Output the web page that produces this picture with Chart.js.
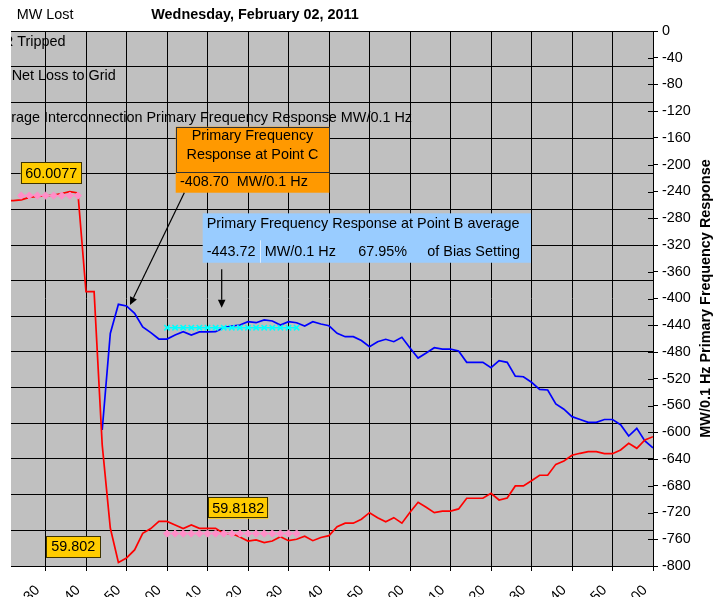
<!DOCTYPE html>
<html>
<head>
<meta charset="utf-8">
<script src="https://cdn.jsdelivr.net/npm/chart.js@4.4.1/dist/chart.umd.min.js"></script>
<style>
  html, body { margin: 0; padding: 0; overflow: hidden; background: #fff; }
</style>
</head>
<body>
<canvas id="chart-frequency" width="716" height="660" style="width:716px;height:660px;display:block"></canvas>
<script>
// seconds relative to the first labelled tick, 2 s scan rate
const seconds = [-10, -8, -6, -4, -2, 0, 2, 4, 6, 8, 10, 12, 14, 16, 18, 20, 22, 24, 26, 28,
  30, 32, 34, 36, 38, 40, 42, 44, 46, 48, 50, 52, 54, 56, 58, 60, 62, 64, 66, 68,
  70, 72, 74, 76, 78, 80, 82, 84, 86, 88, 90, 92, 94, 96, 98, 100, 102, 104, 106, 108,
  110, 112, 114, 116, 118, 120, 122, 124, 126, 128, 130, 132, 134, 136, 138, 140, 142, 144, 146, 148, 150];

// interconnection frequency (Hz), left axis
const frequency = [60.0048, 60.0049, 60.0053, 60.0067, 60.0072, 60.0075, 60.0080, 60.0089, 60.0099, 60.0092,
  59.9538, 59.9538, 59.8679, 59.8213, 59.8020, 59.8045, 59.8090, 59.8183, 59.8210, 59.8250,
  59.8250, 59.8230, 59.8210, 59.8230, 59.8211, 59.8211, 59.8211, 59.8183, 59.8182, 59.8163,
  59.8140, 59.8146, 59.8131, 59.8140, 59.8164, 59.8142, 59.8150, 59.8167, 59.8142, 59.8160,
  59.8170, 59.8220, 59.8240, 59.8240, 59.8262, 59.8299, 59.8271, 59.8248, 59.8271, 59.8240,
  59.8301, 59.8357, 59.8329, 59.8299, 59.8308, 59.8308, 59.8320, 59.8380, 59.8380, 59.8380,
  59.8408, 59.8370, 59.8381, 59.8449, 59.8449, 59.8478, 59.8509, 59.8509, 59.8570, 59.8589,
  59.8621, 59.8632, 59.8641, 59.8641, 59.8630, 59.8630, 59.8651, 59.8688, 59.8660, 59.8707, 59.8725];

// primary frequency response (MW/0.1 Hz), right axis
const response = [null, null, null, null, null, null, null, null, null, null, null, null,
  -596.6, -452.3, -408.7, -411.2, -422.1, -442.6, -451.1, -460.6,
  -460.6, -454.6, -449.6, -454.6, -450.0, -450.0, -449.6, -443.6, -441.1, -439.6,
  -434.7, -436.2, -432.1, -433.6, -439.6, -434.7, -436.2, -441.1, -434.7, -438.1,
  -440.8, -452.0, -457.1, -457.1, -462.8, -472.1, -464.6, -461.0, -464.6, -458.0,
  -474.0, -489.0, -481.5, -473.6, -475.8, -475.8, -478.5, -495.4, -495.4, -495.4,
  -503.5, -493.0, -495.4, -516.2, -517.0, -525.3, -535.8, -536.8, -557.7, -565.5,
  -576.7, -580.9, -585.1, -585.1, -580.9, -580.9, -588.7, -605.6, -594.1, -613.1, -623.5];

const tickSeconds = [0, 10, 20, 30, 40, 50, 60, 70, 80, 90, 100, 110, 120, 130, 140, 150];
const tickLabels = ['05:43:30', '05:43:40', '05:43:50', '05:44:00', '05:44:10', '05:44:20', '05:44:30', '05:44:40',
  '05:44:50', '05:45:00', '05:45:10', '05:45:20', '05:45:30', '05:45:40', '05:45:50', '05:46:00'];

const pointAWindow = [-6, 8];
const pointBWindow = [30, 62];
const pointAHz = 60.0077;
const pointBHz = 59.8182;
const pointBMw = -443.72;
const pointCSec = 18;
const pointCHz = 59.802;
const pointCMw = -408.70;
const biasShare = '67.95%';

const FONT = 'Arial, "Liberation Sans", sans-serif';

const pts = (ys) => seconds.map((t, i) => ({ x: t, y: ys[i] }));
const avgLine = (win, v) => seconds.filter(t => t >= win[0] && t <= win[1]).map(t => ({ x: t, y: v }));

// Draw a filled box with optional border
const box = (ctx, x, y, w, h, fill, stroke) => {
  ctx.fillStyle = fill;
  ctx.fillRect(x, y, w, h);
  if (stroke) {
    ctx.strokeStyle = stroke;
    ctx.lineWidth = 1;
    ctx.strokeRect(Math.round(x) + 0.5, Math.round(y) + 0.5, Math.round(w) - 1, Math.round(h) - 1);
  }
};

const arrow = (ctx, x1, y1, x2, y2) => {
  const ang = Math.atan2(y2 - y1, x2 - x1);
  const len = 8, half = 3.8;
  const bx = x2 - len * Math.cos(ang), by = y2 - len * Math.sin(ang);
  ctx.strokeStyle = '#000';
  ctx.fillStyle = '#000';
  ctx.lineWidth = 1.2;
  ctx.beginPath();
  ctx.moveTo(x1, y1);
  ctx.lineTo(bx, by);
  ctx.stroke();
  ctx.beginPath();
  ctx.moveTo(x2, y2);
  ctx.lineTo(bx + half * Math.sin(ang), by - half * Math.cos(ang));
  ctx.lineTo(bx - half * Math.sin(ang), by + half * Math.cos(ang));
  ctx.closePath();
  ctx.fill();
};

const overlay = {
  id: 'overlay',
  beforeDraw(chart) {
    const { ctx, chartArea: a } = chart;
    ctx.save();
    ctx.fillStyle = '#C0C0C0';
    ctx.fillRect(a.left, a.top, a.right - a.left, a.bottom - a.top);
    ctx.restore();
  },
  afterDraw(chart) {
    const { ctx, chartArea: a, scales } = chart;
    const X = v => scales.x.getPixelForValue(v);
    const YF = v => scales.y.getPixelForValue(v);
    const YM = v => scales.y2.getPixelForValue(v);
    ctx.save();

    // inner half of the right axis tick marks
    ctx.strokeStyle = '#000';
    ctx.lineWidth = 1;
    scales.y2.ticks.forEach(t => {
      const y = Math.round(YM(t.value)) + 0.5;
      ctx.beginPath();
      ctx.moveTo(a.right - 5, y);
      ctx.lineTo(a.right, y);
      ctx.stroke();
    });

    // header
    ctx.fillStyle = '#000';
    ctx.textBaseline = 'middle';
    ctx.textAlign = 'left';
    ctx.font = '14.4px ' + FONT;
    ctx.fillText('MW Lost', 16.7, 15.5);
    ctx.font = 'bold 14.4px ' + FONT;
    ctx.textAlign = 'center';
    ctx.fillText('Wednesday, February 02, 2011', 255, 15.5);

    // right axis title
    ctx.save();
    ctx.translate(706, 298.5);
    ctx.rotate(-Math.PI / 2);
    ctx.fillText('MW/0.1 Hz Primary Frequency Response', 0, 0);
    ctx.restore();

    // row captions, cut at the plot's left edge
    ctx.save();
    ctx.beginPath();
    ctx.rect(a.left, 0, chart.width, chart.height);
    ctx.clip();
    ctx.font = '14.4px ' + FONT;
    ctx.textAlign = 'left';
    let pre = ctx.measureText('R ').width;
    ctx.fillText('R Tripped', 17.3 - pre, 42);
    ctx.fillText('Net Loss to Grid', 11.7, 76);
    pre = ctx.measureText('Ave').width;
    ctx.fillText('Average Interconnection Primary Frequency Response MW/0.1 Hz', 11.3 - pre, 118.3);
    ctx.restore();

    // yellow value tags
    ctx.font = '14.4px ' + FONT;
    ctx.textAlign = 'center';
    const tag = (txt, x, y, w, h) => {
      box(ctx, x, y, w, h, '#FFCC00', '#3d3300');
      ctx.fillStyle = '#000';
      ctx.fillText(txt, x + w / 2, y + h / 2 + 0.5);
    };
    const ax = X(pointAWindow[0]), ay = YF(pointAHz);
    tag(pointAHz.toFixed(4), ax - 0.5, ay - 33.4, 61, 21.7);
    const cx = X(pointCSec), cy = YF(pointCHz);
    tag(pointCHz.toFixed(3), cx - 72.4, cy - 26.4, 54.7, 21.7);
    const bx = X(46), by = YF(pointBHz);
    tag(pointBHz.toFixed(4), bx - 23.5, by - 36.1, 60, 21.3);

    // point C callout
    const pcx = X(pointCSec), pcy = YM(pointCMw);
    const ox = pcx + 57.3, oy = pcy - 177.6;
    box(ctx, ox, oy + 46, 153.6, 20, '#FF9900');
    box(ctx, ox, oy, 153.6, 46, '#FF9900', '#333333');
    ctx.fillStyle = '#000';
    ctx.textAlign = 'center';
    ctx.fillText('Primary Frequency', ox + 76.8, oy + 9.3);
    ctx.fillText('Response at Point C', ox + 76.8, oy + 28);
    ctx.textAlign = 'left';
    ctx.fillText(pointCMw.toFixed(2), ox + 4.3, oy + 55.6);
    ctx.fillText('MW/0.1 Hz', ox + 61, oy + 55.6);
    arrow(ctx, pcx + 65.9, pcy - 111.6, pcx + 11.6, pcy + 0.7);

    // point B callout
    const pbx = X(46), pby = YM(pointBMw);
    const qx = pbx - 29.1, qy = pby - 114.4;
    box(ctx, qx, qy, 328.3, 49.4, '#99CCFF');
    ctx.strokeStyle = '#DDEEFF';
    ctx.lineWidth = 1;
    ctx.beginPath();
    ctx.moveTo(Math.round(qx + 57.3) + 0.5, qy + 27);
    ctx.lineTo(Math.round(qx + 57.3) + 0.5, qy + 49.4);
    ctx.stroke();
    ctx.fillStyle = '#000';
    ctx.textAlign = 'left';
    ctx.fillText('Primary Frequency Response at Point B average', qx + 4, qy + 11);
    ctx.fillText(pointBMw.toFixed(2), qx + 4, qy + 38.4);
    ctx.fillText('MW/0.1 Hz', qx + 62, qy + 38.4);
    ctx.fillText(biasShare, qx + 155.6, qy + 38.4);
    ctx.fillText('of Bias Setting', qx + 224.6, qy + 38.4);
    arrow(ctx, pbx - 10.1, pby - 58.4, pbx - 10.1, pby - 20);

    ctx.restore();
  }
};

const ctx = document.getElementById('chart-frequency').getContext('2d');
new Chart(ctx, {
  type: 'line',
  data: {
    datasets: [
      {
        label: 'Point A average',
        data: avgLine(pointAWindow, pointAHz),
        yAxisID: 'y',
        order: 0,
        borderColor: '#FF8FC8',
        backgroundColor: '#FF8FC8',
        borderWidth: 1.5,
        pointStyle: 'rectRot',
        pointRadius: 3.6,
        pointBorderWidth: 1
      },
      {
        label: 'Point B average Hz',
        data: avgLine(pointBWindow, pointBHz),
        yAxisID: 'y',
        order: 0,
        borderColor: '#FF8FC8',
        backgroundColor: '#FF8FC8',
        borderWidth: 1.5,
        pointStyle: 'rectRot',
        pointRadius: 3.6,
        pointBorderWidth: 1
      },
      {
        label: 'Point B average MW',
        data: avgLine(pointBWindow, pointBMw),
        yAxisID: 'y2',
        order: 0,
        borderColor: '#00FFFF',
        backgroundColor: '#00FFFF',
        borderWidth: 1.5,
        pointStyle: 'crossRot',
        pointRadius: 3.8,
        pointBorderWidth: 1.6
      },
      {
        label: 'Frequency',
        data: pts(frequency),
        yAxisID: 'y',
        order: 1,
        borderColor: '#FF0000',
        borderWidth: 1.7,
        pointRadius: 0,
        tension: 0,
        clip: 0
      },
      {
        label: 'MW/0.1 Hz',
        data: pts(response),
        yAxisID: 'y2',
        order: 1,
        borderColor: '#0000FF',
        borderWidth: 1.7,
        pointRadius: 0,
        tension: 0,
        clip: 0
      }
    ]
  },
  options: {
    responsive: false,
    animation: false,
    events: [],
    layout: { padding: { left: 11, top: 31, right: 0, bottom: 0 } },
    plugins: {
      legend: { display: false },
      tooltip: { enabled: false }
    },
    scales: {
      x: {
        type: 'linear',
        min: -8.52,
        max: 150,
        afterBuildTicks: s => { s.ticks = tickSeconds.map(v => ({ value: v })); },
        afterFit: s => { s.height = 94; s.paddingLeft = 0; s.paddingRight = 0; },
        ticks: {
          autoSkip: false,
          minRotation: 45,
          maxRotation: 45,
          color: '#000',
          padding: 11,
          labelOffset: -8,
          font: { size: 14.4, family: FONT },
          callback: (v, i) => tickLabels[i]
        },
        grid: { color: '#000', lineWidth: 1, tickLength: 5, tickColor: '#000' },
        border: { color: '#000', width: 1 }
      },
      y: {
        position: 'left',
        min: 59.8,
        max: 60.1,
        afterFit: s => { s.width = 0; },
        ticks: { stepSize: 0.02, display: false },
        grid: { color: '#000', lineWidth: 1, drawTicks: false },
        border: { display: false }
      },
      y2: {
        position: 'right',
        min: -800,
        max: 0,
        afterFit: s => { s.width = 63; s.paddingTop = 0; s.paddingBottom = 0; },
        ticks: {
          stepSize: 40,
          color: '#000',
          padding: 4,
          font: { size: 14.4, family: FONT },
          callback: v => String(v)
        },
        grid: { drawOnChartArea: false, tickLength: 5, tickColor: '#000', color: '#000' },
        border: { color: '#000', width: 1 }
      }
    }
  },
  plugins: [overlay]
});
</script>
</body>
</html>
